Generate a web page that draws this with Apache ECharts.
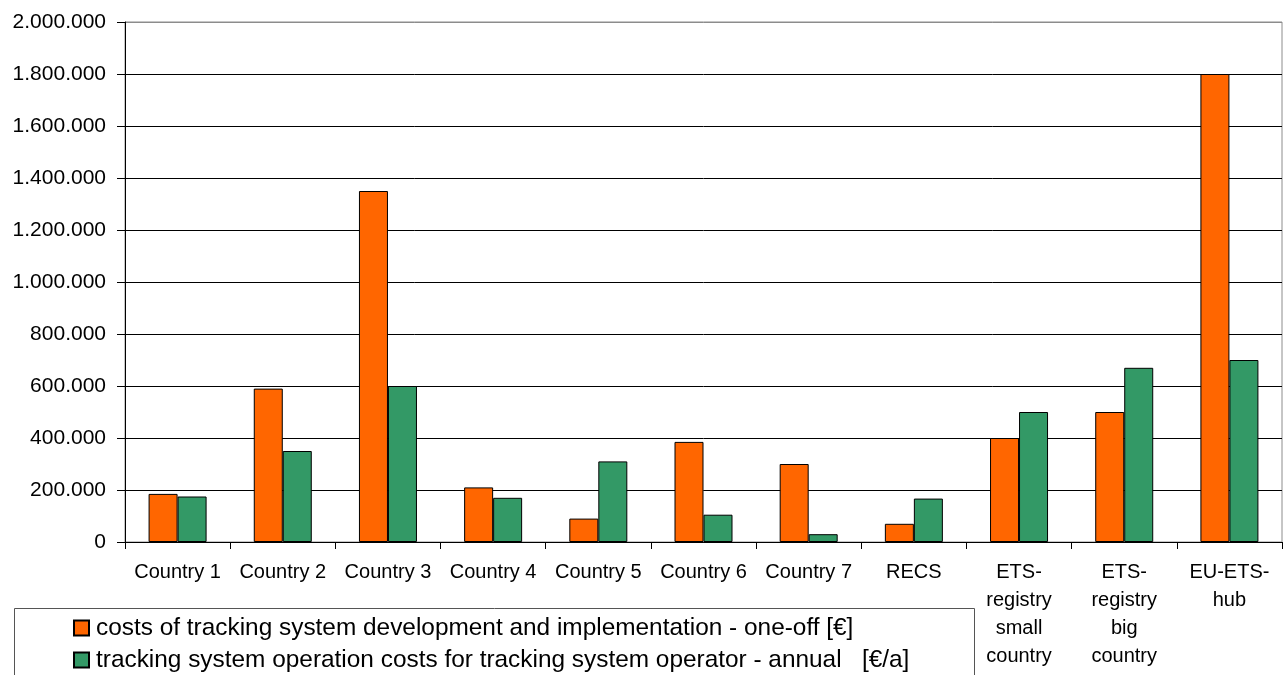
<!DOCTYPE html>
<html>
<head>
<meta charset="utf-8">
<title>Tracking system costs</title>
<script src="https://cdn.jsdelivr.net/npm/echarts@6/dist/echarts.min.js"></script>
<style>
  html, body { margin: 0; padding: 0; background: #ffffff; }
  #chart { width: 1288px; height: 675px; }
</style>
</head>
<body>
<div id="chart"></div>
<script>
// Categories along the x axis
const categories = [
  'Country 1', 'Country 2', 'Country 3', 'Country 4', 'Country 5',
  'Country 6', 'Country 7', 'RECS',
  'ETS-\nregistry\nsmall\ncountry', 'ETS-\nregistry\nbig\ncountry', 'EU-ETS-\nhub'
];

// One-off development and implementation costs [€]
const devCosts = [185000, 590000, 1350000, 210000, 90000, 385000, 300000, 70000, 400000, 500000, 1800000];

// Annual operation costs for the tracking system operator [€/a]
const opCosts = [175000, 350000, 600000, 170000, 310000, 105000, 30000, 167000, 500000, 670000, 700000];

const seriesNames = [
  'costs of tracking system development and implementation - one-off [€]',
  'tracking system operation costs for tracking system operator - annual   [€/a]'
];

const yMax = 2000000;
const yStep = 200000;

const FONT = '"Liberation Sans", Arial, Helvetica, sans-serif';

// 1234567 -> "1.234.567"
function dotThousands(v) {
  return String(Math.round(v)).replace(/\B(?=(\d{3})+(?!\d))/g, '.');
}

// Gridlines are black; the topmost one belongs to the grey plot-area frame
const gridLineColors = [];
for (let v = 0; v <= yMax; v += yStep) {
  gridLineColors.push(v === yMax ? '#8c8c8c' : '#000000');
}

const chart = echarts.init(document.getElementById('chart'), null, { renderer: 'canvas' });

chart.setOption({
  backgroundColor: '#ffffff',
  animation: false,
  textStyle: { fontFamily: FONT, color: '#000000' },
  grid: {
    left: 125, right: 6, top: 22, bottom: 133,
    show: true, borderColor: '#8c8c8c', borderWidth: 1,
    backgroundColor: '#ffffff'
  },
  legend: {
    orient: 'vertical',
    left: 73, top: 614,
    width: 900, height: 120,
    padding: 0,
    itemWidth: 15, itemHeight: 15, itemGap: 4,
    icon: 'rect',
    textStyle: { fontFamily: FONT, fontSize: 24.4, lineHeight: 28, color: '#000000', padding: [0, 0, 0, 2] },
    data: seriesNames
  },
  graphic: [{
    type: 'rect',
    left: 12, top: 606,
    shape: { width: 960, height: 100 },
    style: { fill: 'none', stroke: '#555555', lineWidth: 1 },
    z: -1
  }],
  xAxis: {
    type: 'category',
    data: categories,
    axisLine: { lineStyle: { color: '#000000', width: 1 } },
    axisTick: { show: true, length: 7, alignWithLabel: false, lineStyle: { color: '#000000' } },
    axisLabel: {
      interval: 0, margin: 16,
      fontFamily: FONT, fontSize: 20, lineHeight: 28, color: '#000000', align: 'center'
    }
  },
  yAxis: {
    type: 'value',
    min: 0, max: yMax, interval: yStep,
    axisLine: { show: true, lineStyle: { color: '#000000', width: 1 } },
    axisTick: { show: true, length: 8, inside: false, lineStyle: { color: '#000000' } },
    axisLabel: {
      margin: 19, fontFamily: FONT, fontSize: 21, color: '#000000',
      formatter: dotThousands
    },
    splitLine: { show: true, lineStyle: { color: gridLineColors, width: 1 } }
  },
  series: [
    {
      name: seriesNames[0],
      type: 'bar',
      data: devCosts,
      barWidth: 29,
      barGap: '0%',
      itemStyle: { color: '#ff6600', borderColor: '#000000', borderWidth: 1 }
    },
    {
      name: seriesNames[1],
      type: 'bar',
      data: opCosts,
      barWidth: 29,
      barGap: '0%',
      itemStyle: { color: '#339966', borderColor: '#000000', borderWidth: 1 }
    }
  ]
});
</script>
</body>
</html>
